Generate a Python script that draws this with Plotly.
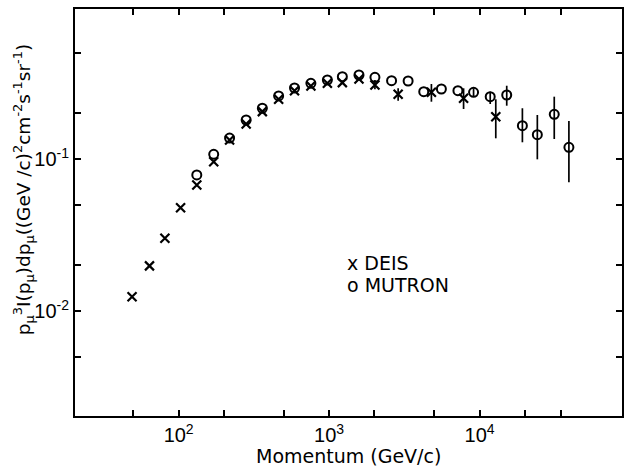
import plotly.graph_objects as go

# ---------------- data ----------------
deis_p = [49, 64, 81, 103, 132, 171, 218, 281, 360, 462, 589, 757, 974, 1225,
          1580, 2017, 2877, 4787, 7834, 12823]
deis_v = [0.0124, 0.0198, 0.0301, 0.0478, 0.0675, 0.0960, 0.1334, 0.170, 0.205,
          0.247, 0.281, 0.302, 0.315, 0.318, 0.336, 0.307, 0.2665, 0.2746,
          0.2507, 0.1898]
deis_hi = [None] * 15 + [0.3309, 0.2918, 0.3114, 0.2918, 0.2470]
deis_lo = [None] * 15 + [0.2874, 0.2418, 0.2382, 0.2133, 0.1368]

mutron_p = [132, 171, 218, 281, 360, 462, 589, 757, 974, 1225, 1580, 2017,
            2602, 3352, 4257, 5577, 7183, 9127, 11776, 15163, 19269, 24220,
            31380, 39270]
mutron_v = [0.0785, 0.1074, 0.1374, 0.1805, 0.2157, 0.2598, 0.2932, 0.3148,
            0.3309, 0.3478, 0.3569, 0.3447, 0.3274, 0.3259, 0.2772, 0.2887,
            0.2813, 0.2746, 0.2570, 0.2637, 0.1656, 0.1445, 0.1968, 0.1194]
mutron_hi = [None] * 17 + [0.2918, 0.2772, 0.3034, 0.2157, 0.1948, 0.2570, 0.1778]
mutron_lo = [None] * 17 + [0.2570, 0.2300, 0.2242, 0.1288, 0.0995, 0.1354, 0.0703]

x_tickvals = [50, 100, 200, 500, 1000, 2000, 5000, 10000, 20000, 35000]
x_ticktext = ["", "10<sup>2</sup>", "", "", "10<sup>3</sup>", "", "", "10<sup>4</sup>", "", ""]
y_tickvals = [0.005, 0.01, 0.02, 0.05, 0.1, 0.2, 0.5]
y_ticktext = ["", "10<sup>-2</sup>", "", "", "10<sup>-1</sup>", "", ""]

x_title = "Momentum (GeV/c)"
y_title = ("p<sub>μ</sub><sup>3</sup>I(p<sub>μ</sub>)dp<sub>μ</sub>((GeV /c)<sup>2</sup>"
           "cm<sup>-2</sup>s<sup>-1</sup>sr<sup>-1</sup>)")
legend_labels = ["x DEIS", "o MUTRON"]


def plus(v, hi):
    return [(h - a) if h is not None else 0 for a, h in zip(v, hi)]


def minus(v, lo):
    return [(a - l) if l is not None else 0 for a, l in zip(v, lo)]


fig = go.Figure()
fig.add_trace(go.Scatter(
    x=mutron_p, y=mutron_v, mode="markers", name="MUTRON",
    marker=dict(symbol="circle-open", size=9, color="black", line=dict(width=2, color="black")),
    error_y=dict(type="data", symmetric=False, array=plus(mutron_v, mutron_hi),
                 arrayminus=minus(mutron_v, mutron_lo), width=0, thickness=1.7, color="black"),
    showlegend=False,
))
fig.add_trace(go.Scatter(
    x=deis_p, y=deis_v, mode="markers", name="DEIS",
    marker=dict(symbol="x-thin-open", size=9, color="black", line=dict(width=2.2, color="black")),
    error_y=dict(type="data", symmetric=False, array=plus(deis_v, deis_hi),
                 arrayminus=minus(deis_v, deis_lo), width=0, thickness=1.7, color="black"),
    showlegend=False,
))

L, R, T, B = 75, 1, 9, 50
W, H = 625, 466
ph = H - T - B
pw = W - L - R

axis_common = dict(showline=True, linewidth=2, linecolor="black", mirror="ticks",
                   ticks="inside", ticklen=6, tickwidth=1.5, tickcolor="black",
                   showgrid=False, zeroline=False,
                   tickfont=dict(family="Liberation Sans, Arial, sans-serif", size=20, color="black"))

fig.update_xaxes(type="log", range=[1.311, 4.947], tickmode="array",
                 tickvals=x_tickvals, ticktext=x_ticktext, **axis_common)
fig.update_yaxes(type="log", range=[-2.6908, -0.0132], tickmode="array",
                 tickvals=y_tickvals, ticktext=y_ticktext, **axis_common)


def py(pix):
    return (H - B - pix) / ph


def px(pix):
    return (pix - L) / pw


annots = [
    dict(text=x_title, x=0.5, y=py(456), xanchor="center", yanchor="middle",
         font=dict(family="DejaVu Sans, sans-serif", size=19, color="black")),
    dict(text=y_title, x=px(24), y=py(190), xanchor="center", yanchor="middle",
         textangle=-90, font=dict(family="DejaVu Sans, sans-serif", size=18.5, color="black")),
    dict(text=legend_labels[0], x=px(346), y=py(263), xanchor="left", yanchor="middle",
         font=dict(family="DejaVu Sans, sans-serif", size=19, color="black")),
    dict(text=legend_labels[1], x=px(346), y=py(285), xanchor="left", yanchor="middle",
         font=dict(family="DejaVu Sans, sans-serif", size=19, color="black")),
]
for a in annots:
    a.update(xref="paper", yref="paper", showarrow=False)

fig.update_layout(
    width=W, height=H,
    margin=dict(l=L, r=R, t=T, b=B),
    plot_bgcolor="white", paper_bgcolor="white",
    annotations=annots,
    showlegend=False,
)

fig.write_html("out.html")
